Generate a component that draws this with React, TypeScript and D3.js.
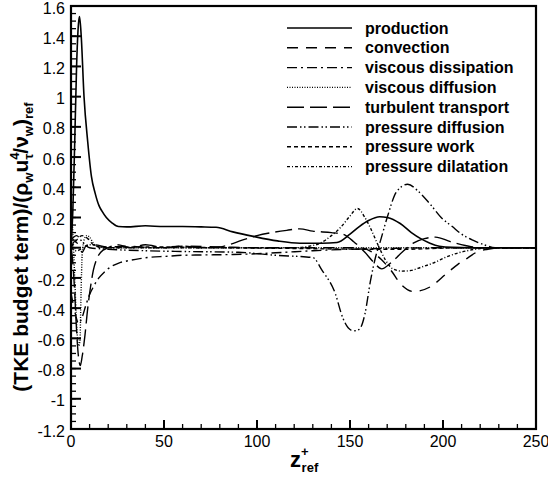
import React from "react";
import * as d3 from "d3";

type Pt = [number, number];

const production: Pt[] = [[0,0],[1,0.25],[2,0.7],[3,1.2],[4,1.48],[4.6,1.53],[5.5,1.4],[7,1.0],[9,0.7],[11,0.47],[13,0.36],[15,0.28],[16.5,0.245],[19,0.2],[22,0.165],[25.5,0.14],[30,0.138],[40,0.145],[50,0.14],[60,0.14],[70,0.138],[78,0.135],[87,0.105],[98,0.075],[111,0.045],[123,0.03],[135,0.03],[143,0.035],[150,0.09],[155,0.14],[160,0.18],[166,0.205],[170,0.2],[177,0.16],[183,0.1],[188,0.06],[193,0.03],[198,0.01],[205,0.002],[215,0],[250,0]];

const convection: Pt[] = [[0,0],[2,0.04],[4,0.02],[6,-0.03],[8,0.01],[12,0.02],[20,0.005],[30,0.01],[45,0.0],[60,0.01],[80,0.005],[100,0.0],[120,0.0],[140,0.0],[155,0.0],[162,-0.03],[167,-0.08],[172,-0.15],[178,-0.25],[184,-0.29],[193,-0.26],[202,-0.17],[208,-0.11],[213,-0.07],[218,-0.03],[224,-0.01],[232,0],[250,0]];

const viscousDissipation: Pt[] = [[0,-0.3],[2,-0.42],[4,-0.5],[6,-0.46],[8,-0.38],[10,-0.31],[12,-0.26],[15,-0.2],[18,-0.16],[21,-0.13],[26,-0.1],[30,-0.088],[37,-0.072],[42,-0.064],[51,-0.057],[60,-0.05],[70,-0.048],[87,-0.045],[100,-0.04],[115,-0.03],[130,-0.02],[150,-0.01],[170,-0.005],[200,0],[250,0]];

const viscousDiffusion: Pt[] = [[0,0.27],[1,0.1],[2,-0.2],[3,-0.5],[4,-0.65],[4.8,-0.62],[5.4,-0.3],[6,-0.05],[7,0.05],[8.5,0.08],[10,0.07],[12,0.03],[15,0.005],[20,0],[250,0]];

const turbulentTransport: Pt[] = [[0,0],[1,-0.1],[2,-0.3],[3,-0.55],[4,-0.72],[5,-0.78],[6,-0.72],[7.5,-0.58],[9,-0.4],[10.5,-0.26],[12,-0.15],[14,-0.07],[16,-0.03],[20,0.0],[25,0.02],[32,0.0],[40,0.02],[50,0.0],[60,0.01],[70,0.0],[80,0.005],[85,0.02],[92,0.05],[100,0.08],[108,0.1],[116,0.115],[123,0.125],[130,0.11],[140,0.1],[146,0.09],[152,0.04],[158,-0.03],[163,-0.1],[167,-0.14],[172,-0.1],[178,-0.03],[184,0.03],[190,0.06],[196,0.07],[204,0.04],[212,0.015],[220,0],[250,0]];

const pressureDiffusion: Pt[] = [[0,0.05],[3,0.08],[6,0.04],[10,0.0],[20,-0.01],[40,-0.02],[60,-0.025],[90,-0.03],[110,-0.05],[125,-0.06],[130,-0.065],[135,-0.15],[142,-0.3],[146,-0.46],[149,-0.53],[152,-0.55],[155,-0.54],[158,-0.44],[161,-0.22],[164,-0.05],[166,0.03],[170,0.2],[175,0.37],[181,0.42],[187,0.37],[193,0.29],[199,0.2],[205,0.14],[210,0.09],[216,0.05],[222,0.02],[228,0],[250,0]];

const pressureWork: Pt[] = [[0,0],[3,0.05],[6,0.08],[9,0.06],[12,0.02],[18,0.0],[40,0.005],[80,0.0],[120,-0.005],[160,-0.01],[180,-0.01],[210,0],[250,0]];

const pressureDilatation: Pt[] = [[0,0],[3,-0.02],[10,0.02],[20,0],[120,0],[128,0.01],[134,0.03],[140,0.08],[145,0.135],[150,0.21],[154,0.26],[158,0.2],[161,0.13],[165,0.02],[169,-0.08],[173,-0.14],[178,-0.155],[183,-0.15],[188,-0.13],[195,-0.1],[202,-0.06],[208,-0.035],[213,-0.02],[220,-0.005],[226,0],[250,0]];

const seriesNames = ["production","convection","viscous dissipation","viscous diffusion","turbulent transport","pressure diffusion","pressure work","pressure dilatation"];
const seriesData = [production, convection, viscousDissipation, viscousDiffusion, turbulentTransport, pressureDiffusion, pressureWork, pressureDilatation];
const seriesDash = ["", "11,8", "10,4,2,4", "1,1.5", "17,6", "10,3,1.5,2.5,1.5,3", "4,3", "3,2,1,2"];

const xTicks = [0, 50, 100, 150, 200, 250];
const yTicks = [-1.2, -1, -0.8, -0.6, -0.4, -0.2, 0, 0.2, 0.4, 0.6, 0.8, 1, 1.2, 1.4, 1.6];

const W = 548, H = 478;
const L = 71, R = 536, T = 6, B = 429;

export default function App() {
  const x = d3.scaleLinear().domain([0, 250]).range([L, R]);
  const y = d3.scaleLinear().domain([-1.2, 1.6]).range([B, T]);
  const line = d3.line<Pt>().x(d => x(d[0])).y(d => y(d[1])).curve(d3.curveMonotoneX);
  const xMinor = d3.range(0, 251, 10);
  const yMinor = d3.range(-1.2, 1.6001, 0.05);
  const font = "'Liberation Sans', Arial, Helvetica, sans-serif";
  const fmt = (v: number) => String(Math.round(v * 10) / 10);
  return (
    <svg width={W} height={H} style={{ position: "absolute", left: 0, top: 0, background: "#fff" }} fontFamily={font}>
      <defs>
        <clipPath id="plot"><rect x={L} y={T} width={R - L} height={B - T} /></clipPath>
      </defs>
      <g clipPath="url(#plot)">
        {seriesData.map((d, i) => (
          <path key={i} d={line(d) || ""} fill="none" stroke="#000" strokeWidth={i === 0 ? 1.6 : 1.4} strokeDasharray={seriesDash[i]} />
        ))}
      </g>
      {xMinor.map((v, i) => (
        <line key={"xm" + i} x1={x(v)} x2={x(v)} y1={B} y2={B - 5} stroke="#000" strokeWidth={1.3} />
      ))}
      {xTicks.map((v, i) => (
        <line key={"xM" + i} x1={x(v)} x2={x(v)} y1={B} y2={B - 9} stroke="#000" strokeWidth={2} />
      ))}
      {yMinor.map((v, i) => (
        <line key={"ym" + i} x1={L} x2={L + 5} y1={y(v)} y2={y(v)} stroke="#000" strokeWidth={1.3} />
      ))}
      {yTicks.map((v, i) => (
        <line key={"yM" + i} x1={L} x2={L + 10} y1={y(v)} y2={y(v)} stroke="#000" strokeWidth={2} />
      ))}
      <rect x={L} y={T} width={R - L} height={B - T} fill="none" stroke="#000" strokeWidth={2.2} />
      {yTicks.map((v, i) => (
        <text key={"yl" + i} x={L - 6} y={y(v) + 2} dy="0.35em" textAnchor="end" fontSize={16}>{fmt(v)}</text>
      ))}
      {xTicks.map((v, i) => (
        <text key={"xl" + i} x={x(v)} y={B + 18} textAnchor="middle" fontSize={16}>{fmt(v)}</text>
      ))}
      <text x={290} y={467} fontSize={22} fontWeight="bold">z<tspan fontSize={13} dy={-11}>+</tspan><tspan fontSize={13} dx={-7} dy={16}>ref</tspan></text>
      <text transform="translate(28,247) rotate(-90)" textAnchor="middle" fontSize={21} fontWeight="bold">
        (TKE budget term)/(ρ<tspan fontSize={13} dy={5}>w</tspan><tspan dy={-5}>u</tspan><tspan fontSize={13} dy={-9}>4</tspan><tspan fontSize={13} dx={-7} dy={14}>τ</tspan><tspan dy={-5}>/ν</tspan><tspan fontSize={13} dy={5}>w</tspan><tspan dy={-5}>)</tspan><tspan fontSize={13} dy={5}>ref</tspan>
      </text>
      {seriesNames.map((n, i) => {
        const ly = 28 + i * 19.8;
        return (
          <g key={"lg" + i}>
            <line x1={287} x2={352} y1={ly} y2={ly} stroke="#000" strokeWidth={i === 0 ? 1.6 : 1.4} strokeDasharray={seriesDash[i]} />
            <text x={365} y={ly} dy="0.35em" fontSize={16} fontWeight="bold">{n}</text>
          </g>
        );
      })}
    </svg>
  );
}
